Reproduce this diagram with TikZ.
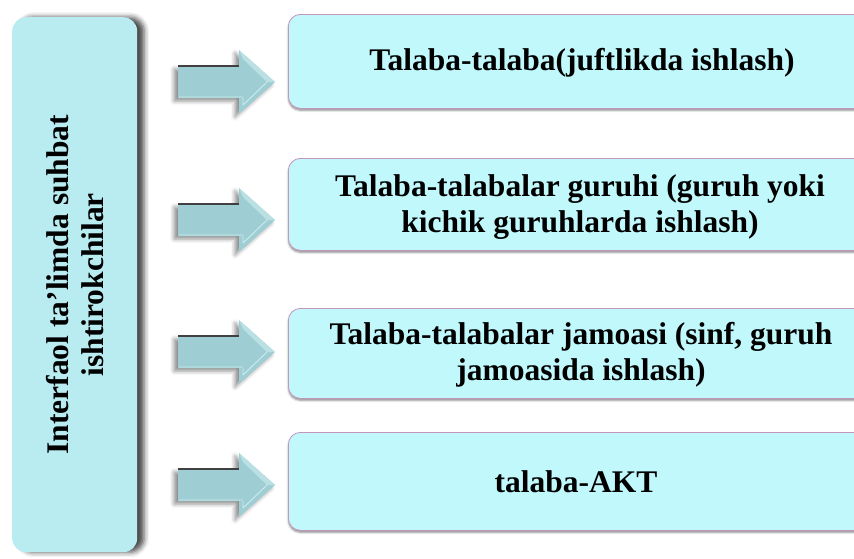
\documentclass[tikz,border=0pt]{standalone}
\usepackage{fontspec}
\setmainfont{Liberation Serif}
\usetikzlibrary{shadows.blur}

\definecolor{kastenblau}{RGB}{192,248,252}
\definecolor{seitenblau}{RGB}{184,236,241}
\definecolor{pfeilblau}{RGB}{158,206,211}
\definecolor{pfeilhell}{RGB}{205,236,238}
\definecolor{randlila}{RGB}{196,150,190}

\tikzset{
  kasten/.style={draw=randlila, line width=.8pt, fill=kastenblau, rounded corners=12pt,
    inner sep=0pt, anchor=north west,
    blur shadow={shadow xshift=0pt, shadow yshift=-2pt, shadow blur radius=2pt, shadow opacity=45}},
  seite/.style={fill=seitenblau, rounded corners=14pt, inner sep=0pt, anchor=north west,
    blur shadow={shadow xshift=7pt, shadow yshift=0pt, shadow blur radius=5pt, shadow opacity=70}},
  schrift/.style={font=\bfseries\fontsize{31.5}{36}\selectfont, align=center, inner sep=0pt},
  pfeil/.style={fill=pfeilblau,
    blur shadow={shadow xshift=-4pt, shadow yshift=-3pt, shadow blur radius=4pt, shadow opacity=45}}
}

\begin{document}
\begin{tikzpicture}[x=1pt,y=-1pt]
  \useasboundingbox (0,0) rectangle (854,558);
  \clip (0,0) rectangle (854,558);
  % linker Kasten
  \node[seite, minimum width=125, minimum height=535] (seite) at (12,17) {};
  \node[schrift, rotate=90, font=\bfseries\fontsize{31.5}{35}\selectfont] (titel) at (seite.center)
    {Interfaol ta’limda suhbat\\ishtirokchilar};
  % rechte Kaesten
  \node[kasten, minimum width=600, minimum height=94] (kasten1) at (288,14) {};
  \node[kasten, minimum width=600, minimum height=92] (kasten2) at (288,158) {};
  \node[kasten, minimum width=600, minimum height=90] (kasten3) at (288,308) {};
  \node[kasten, minimum width=600, minimum height=98] (kasten4) at (288,432) {};
  \node[schrift] (text1) at (582,63) {Talaba-talaba(juftlikda ishlash)};
  \node[schrift] (text2) at (580,207) {Talaba-talabalar guruhi (guruh yoki\\kichik guruhlarda ishlash)};
  \node[schrift] (text3) at (581,355) {Talaba-talabalar jamoasi (sinf, guruh\\jamoasida ishlash)};
  \node[schrift] (text4) at (576,482) {talaba-AKT};
  % Pfeile
  \foreach \y in {82,220,352,485} {
    \path[pfeil] (178,\y-16) -- (239,\y-16) -- (239,\y-32) -- (275,\y) -- (239,\y+32)
      -- (239,\y+16) -- (178,\y+16) -- cycle;
    \fill[pfeilhell!60!pfeilblau] (239,\y-32) -- (275,\y) -- (267,\y) -- (243,\y-23) -- cycle;
    \draw[pfeilhell, line width=.9pt] (243,\y+23) -- (267,\y) (243,\y+16) -- (243,\y+23)
      (179,\y+15) -- (243,\y+15);
    \draw[black!75, line width=1.4pt] (178,\y-16) -- (239,\y-16);
  }
\end{tikzpicture}
\end{document}
